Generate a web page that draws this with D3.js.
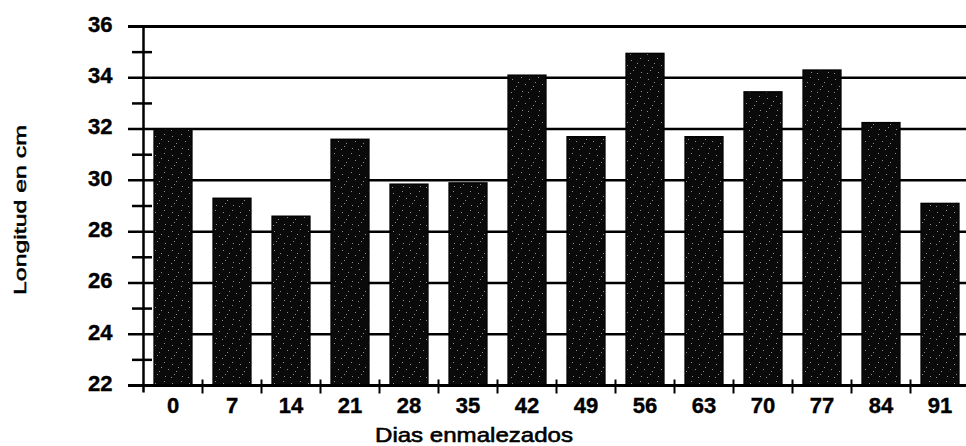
<!DOCTYPE html>
<html>
<head>
<meta charset="utf-8">
<script src="https://cdn.jsdelivr.net/npm/d3@7/dist/d3.min.js"></script>
<style>
  html, body { margin: 0; padding: 0; background: #fff; }
  svg { display: block; }
  text { font-family: "Liberation Sans", Arial, sans-serif; fill: #000; }
</style>
</head>
<body>
<svg id="chart" width="966" height="446"></svg>
<script>
// Days of weed interference and mean length (cm)
const dias = ["0", "7", "14", "21", "28", "35", "42", "49", "56", "63", "70", "77", "84", "91"];
const longitud = [32.0, 29.3, 28.6, 31.6, 29.85, 29.9, 34.1, 31.7, 34.95, 31.7, 33.45, 34.3, 32.25, 29.1];
const yMajorTicks = [22, 24, 26, 28, 30, 32, 34, 36];
const yMinorTicks = [23, 25, 27, 29, 31, 33, 35];
const xTitle = "Dias enmalezados";
const yTitle = "Longitud en cm";

const svg = d3.select("#chart");
const plotLeft = 143.5, plotRight = 969.5, plotTop = 26.5, plotBottom = 385.5;

const x = d3.scaleBand()
  .domain(dias)
  .range([plotLeft, plotRight])
  .paddingInner(0.36)
  .paddingOuter(0.18);

const y = d3.scaleLinear()
  .domain([22, 36])
  .range([plotBottom, plotTop]);

// speckled fill for the bars
const defs = svg.append("defs");
const pat = defs.append("pattern")
  .attr("id", "speckle")
  .attr("patternUnits", "userSpaceOnUse")
  .attr("width", 17).attr("height", 19);
pat.append("rect").attr("width", 17).attr("height", 19).attr("fill", "#0a0a0a");
[[2, 3], [11, 1], [15, 8], [6, 10], [12, 15], [1, 16], [8, 6], [4, 13]].forEach(([px, py]) => {
  pat.append("rect").attr("x", px).attr("y", py).attr("width", 1).attr("height", 1)
    .attr("fill", "#8c8c8c");
});

// horizontal gridlines at major ticks
svg.append("g")
  .selectAll("line")
  .data(yMajorTicks)
  .join("line")
  .attr("x1", 128).attr("x2", 966)
  .attr("y1", d => y(d)).attr("y2", d => y(d))
  .attr("stroke", "#000")
  .attr("stroke-width", d => d === 36 ? 3 : 2.5);

// bars
svg.append("g")
  .selectAll("rect")
  .data(dias.map((d, i) => ({ d, v: longitud[i] })))
  .join("rect")
  .attr("x", d => x(d.d))
  .attr("width", x.bandwidth())
  .attr("y", d => y(d.v))
  .attr("height", d => y(22) - y(d.v))
  .attr("fill", "url(#speckle)")
  .attr("stroke", "#000")
  .attr("stroke-width", 1.5);

// y axis line and minor ticks
svg.append("line")
  .attr("x1", plotLeft).attr("x2", plotLeft)
  .attr("y1", y(36)).attr("y2", plotBottom + 7)
  .attr("stroke", "#000").attr("stroke-width", 2.5);

svg.append("g")
  .selectAll("line")
  .data(yMinorTicks)
  .join("line")
  .attr("x1", 132).attr("x2", 152)
  .attr("y1", d => y(d)).attr("y2", d => y(d))
  .attr("stroke", "#000").attr("stroke-width", 2.5);

// x axis baseline and tick marks between categories
svg.append("line")
  .attr("x1", 128).attr("x2", 966)
  .attr("y1", plotBottom).attr("y2", plotBottom)
  .attr("stroke", "#000").attr("stroke-width", 3);

const gap = x.step() - x.bandwidth();
svg.append("g")
  .selectAll("line")
  .data(dias.slice(1))
  .join("line")
  .attr("x1", d => x(d) - gap / 2).attr("x2", d => x(d) - gap / 2)
  .attr("y1", plotBottom - 6).attr("y2", plotBottom + 8)
  .attr("stroke", "#000").attr("stroke-width", 2);

// y tick labels
const yAxis = d3.axisLeft(y).tickValues(yMajorTicks).tickSize(0).tickPadding(31);
const gy = svg.append("g").attr("transform", `translate(${plotLeft},0)`).call(yAxis);
gy.select(".domain").remove();
gy.selectAll("text")
  .attr("font-size", 22).attr("font-weight", "bold")
  .attr("font-family", "Liberation Sans, Arial, sans-serif")
  .attr("fill", "#000")
  .attr("stroke", "#000").attr("stroke-width", 0.4)
  .attr("dy", "0.22em");

// x tick labels
const xAxis = d3.axisBottom(x).tickSize(0).tickPadding(12);
const gx = svg.append("g").attr("transform", `translate(0,${plotBottom})`).call(xAxis);
gx.select(".domain").remove();
gx.selectAll("text")
  .attr("font-size", 22).attr("font-weight", "bold")
  .attr("font-family", "Liberation Sans, Arial, sans-serif")
  .attr("fill", "#000")
  .attr("stroke", "#000").attr("stroke-width", 0.4);

// axis titles
svg.append("text")
  .attr("x", 474).attr("y", 442)
  .attr("text-anchor", "middle")
  .attr("font-size", 21)
  .attr("stroke", "#000").attr("stroke-width", 0.6)
  .attr("textLength", 198).attr("lengthAdjust", "spacingAndGlyphs")
  .text(xTitle);

svg.append("text")
  .attr("transform", "translate(26,210) rotate(-90)")
  .attr("text-anchor", "middle")
  .attr("font-size", 17)
  .attr("stroke", "#000").attr("stroke-width", 0.5)
  .attr("textLength", 170).attr("lengthAdjust", "spacingAndGlyphs")
  .text(yTitle);
</script>
</body>
</html>
